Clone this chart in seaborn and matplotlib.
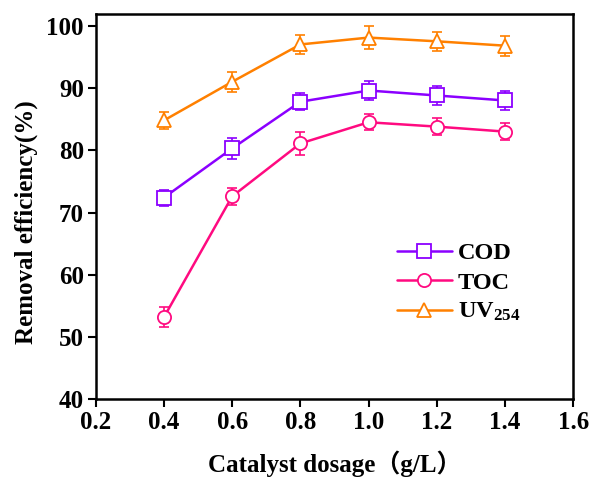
import matplotlib
matplotlib.use("Agg")
import matplotlib.pyplot as plt
import seaborn as sns
import pandas as pd
from matplotlib.lines import Line2D

dosage = [0.4, 0.6, 0.8, 1.0, 1.2, 1.4]
cod = [72.4, 80.3, 87.8, 89.6, 88.8, 88.0]
toc = [53.2, 72.6, 81.1, 84.5, 83.8, 83.0]
uv254 = [84.8, 91.0, 97.0, 98.1, 97.5, 96.8]
cod_err = [1.3, 1.7, 1.4, 1.5, 1.5, 1.5]
toc_err = [1.6, 1.4, 1.9, 1.3, 1.4, 1.4]
uv_err = [1.4, 1.6, 1.5, 1.8, 1.5, 1.6]
series_names = ["COD", "TOC", "UV254"]
legend_labels = ["COD", "TOC", r"UV$_{\mathbf{254}}$"]
xticks = [0.2, 0.4, 0.6, 0.8, 1.0, 1.2, 1.4, 1.6]
yticks = [40, 50, 60, 70, 80, 90, 100]

colors = {"COD": "#8B00FF", "TOC": "#FF0A80", "UV254": "#FF8000"}
markers = {"COD": "s", "TOC": "o", "UV254": "^"}

sns.set_style("ticks")
plt.rcParams['font.family'] = ['Liberation Serif', 'Noto Sans CJK SC']
plt.rcParams['font.weight'] = 'bold'
plt.rcParams['text.color'] = 'black'
plt.rcParams['axes.labelcolor'] = 'black'
plt.rcParams['mathtext.fontset'] = 'custom'
plt.rcParams['mathtext.rm'] = 'Liberation Serif:bold'
plt.rcParams['mathtext.bf'] = 'Liberation Serif:bold'
plt.rcParams['mathtext.it'] = 'Liberation Serif:bold'

df = pd.DataFrame({
    "dosage": dosage * 3,
    "value": cod + toc + uv254,
    "err": cod_err + toc_err + uv_err,
    "series": [s for s in series_names for _ in dosage],
})

fig = plt.figure(figsize=(5.91, 4.8), dpi=100)
ax = fig.add_axes([0.162, 0.168, 0.808, 0.803])

for s in series_names:
    sub = df[df.series == s]
    ax.errorbar(sub.dosage, sub.value, yerr=sub.err, fmt="none",
                ecolor=colors[s], elinewidth=1.2, capsize=3.8, capthick=1.2, zorder=2)
    sns.lineplot(data=sub, x="dosage", y="value", color=colors[s], marker=markers[s],
                 ax=ax, markersize=9.5, markerfacecolor="white", markeredgecolor=colors[s],
                 markeredgewidth=1.3, linewidth=1.8, legend=False, zorder=3)

ax.set_xlim(0.2, 1.6)
ax.set_ylim(40, 101.9)
ax.set_xticks(xticks)
ax.set_xticklabels([f"{t:.1f}" for t in xticks])
ax.set_yticks(yticks)
ax.tick_params(axis="both", direction="out", length=5.5, width=1.5, labelsize=18,
               colors="black", pad=3)
for lab in ax.get_xticklabels() + ax.get_yticklabels():
    lab.set_fontweight("bold")
for sp in ax.spines.values():
    sp.set_visible(True)
    sp.set_linewidth(1.8)
    sp.set_color("black")

ax.set_xlabel("Catalyst dosage（g/L）", fontsize=18, fontweight="bold", labelpad=12)
ax.set_ylabel("Removal efficiency(%)", fontsize=18, fontweight="bold")
ax.yaxis.set_label_coords(-0.121, 0.46)

handles = [Line2D([0], [0], color=colors[s], marker=markers[s], markersize=9.5,
                  markerfacecolor="white", markeredgecolor=colors[s],
                  markeredgewidth=1.3, linewidth=1.8)
           for s in series_names]
ax.legend(handles, legend_labels, loc="upper left", bbox_to_anchor=(0.585, 0.464),
          frameon=False, prop={"size": 17.5, "weight": "bold"}, handlelength=2.26,
          labelspacing=0.3, handletextpad=0.25)

fig.savefig("out.png", dpi=100)
